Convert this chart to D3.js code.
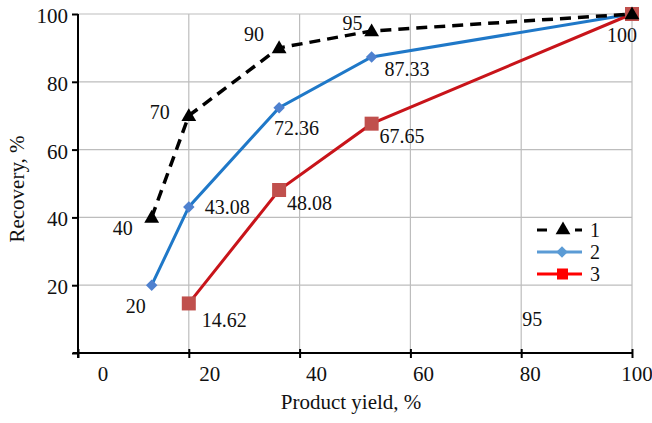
<!DOCTYPE html>
<html>
<head>
<meta charset="utf-8">
<script src="https://cdnjs.cloudflare.com/ajax/libs/d3/7.8.5/d3.min.js"></script>
</head>
<body style="margin:0">
<div class="chart"></div>
<script>
// product yield vs recovery, three curves
var yieldX = [13.3, 20, 36.3, 53, 100];
var rec1 = [40, 70, 90, 95, 100];
var rec2 = [20, 43.08, 72.36, 87.33, 100];
var rec3 = [14.62, 48.08, 67.65, 100];
var yield3 = [20, 36.3, 53, 100];
var xTicks = [0, 20, 40, 60, 80, 100];
var yTicks = [20, 40, 60, 80, 100];
var seriesNames = ["1", "2", "3"];
// point labels (text) and where they sit relative to their point
var lab1 = ["40", "70", "90", "95", "100"];
var off1 = [[-29, 18, "middle"], [-29, 3, "middle"], [-25, -7, "middle"], [-19, -1, "middle"], [-10, 28, "middle"]];
var lab2 = ["20", "43.08", "72.36", "87.33"];
var off2 = [[-16, 28, "middle"], [16, 7, "start"], [-5, 27, "start"], [13, 19, "start"]];
var lab3 = ["14.62", "48.08", "67.65"];
var off3 = [[13, 24, "start"], [8, 20, "start"], [8, 19, "start"]];
var stray = {x: 82, y: 8, text: "95"};

var W = 652, H = 423;
var svg = d3.select(".chart").append("svg")
    .attr("width", W)
    .attr("height", H)
    .attr("font-family", "Liberation Serif");

var x = d3.scaleLinear().domain([0, 100]).range([78, 632]);
var y = d3.scaleLinear().domain([0, 100]).range([353, 14]);
// the tick labels in the original sit a bit right of their ticks
var xLab = d3.scaleLinear().domain([0, 100]).range([103, 637]);

function txt(sel, size) {
    return sel.attr("font-family", "Liberation Serif")
        .style("font-family", "\"Liberation Serif\"")
        .style("font-size", (size || 20) + "px")
        .style("fill", "#111");
}

// grid
svg.append("g").selectAll("line").data(yTicks).enter().append("line")
    .attr("x1", x(0)).attr("x2", x(100))
    .attr("y1", d => y(d)).attr("y2", d => y(d))
    .style("stroke", "#bdbdbd").style("stroke-width", 1.2);
svg.append("g").selectAll("line").data(xTicks.slice(1)).enter().append("line")
    .attr("x1", d => x(d)).attr("x2", d => x(d))
    .attr("y1", y(0)).attr("y2", y(100))
    .style("stroke", "#bdbdbd").style("stroke-width", 1.2);

// axes
var yAxis = svg.append("g").attr("transform", "translate(" + x(0) + ",0)")
    .call(d3.axisLeft(y).tickValues([0].concat(yTicks)).tickSize(6).tickFormat(d => d == 0 ? "" : d));
yAxis.attr("font-family", "Liberation Serif").attr("font-size", 20);
yAxis.select(".domain").attr("d", "M0," + y(100) + "V" + (y(0) + 5)).style("stroke", "#000").style("stroke-width", 2);
yAxis.selectAll(".tick line").style("stroke", "#000").style("stroke-width", 2);
txt(yAxis.selectAll(".tick text").attr("x", -10).attr("dy", "0.4em"), 21);

var xAxis = svg.append("g").attr("transform", "translate(0," + y(0) + ")")
    .call(d3.axisBottom(x).tickValues(xTicks).tickSize(5).tickFormat(""));
xAxis.select(".domain").attr("d", "M" + (x(0) - 5) + ",0H" + x(100)).style("stroke", "#000").style("stroke-width", 2);
xAxis.selectAll(".tick line").attr("y1", -4).style("stroke", "#000").style("stroke-width", 2);

txt(svg.append("g").selectAll("text").data(xTicks).enter().append("text")
    .attr("x", d => xLab(d))
    .attr("y", 381)
    .attr("text-anchor", "middle")
    .text(d => d), 21);

txt(svg.append("text")
    .attr("x", 351).attr("y", 409)
    .attr("text-anchor", "middle")
    .text("Product yield, %"), 21);
txt(svg.append("text")
    .attr("transform", "translate(24,189) rotate(-90)")
    .attr("text-anchor", "middle")
    .text("Recovery, %"), 21);

var line = d3.line().x(d => x(d[0])).y(d => y(d[1]));
var pts1 = d3.zip(yieldX, rec1), pts2 = d3.zip(yieldX, rec2), pts3 = d3.zip(yield3, rec3);

var tri = d3.symbol().type(d3.symbolTriangle).size(95);
var sq = d3.symbol().type(d3.symbolSquare).size(66);

// series 2 - blue
svg.append("path").datum(pts2).attr("d", line)
    .style("fill", "none").style("stroke", "#1f78c8").style("stroke-width", 3);
svg.append("g").selectAll("path").data(pts2.slice(0, 4)).enter().append("path")
    .attr("d", sq)
    .attr("transform", d => "translate(" + x(d[0]) + "," + y(d[1]) + ") rotate(45)")
    .style("fill", "#4f81cf");

// series 3 - red
svg.append("path").datum(pts3).attr("d", line)
    .style("fill", "none").style("stroke", "#c8141a").style("stroke-width", 3);
svg.append("g").selectAll("rect").data(pts3).enter().append("rect")
    .attr("x", d => x(d[0]) - 7).attr("y", d => y(d[1]) - 7)
    .attr("width", 14).attr("height", 14)
    .style("fill", "#c0504d");

// series 1 - black dashed
svg.append("path").datum(pts1).attr("d", line)
    .style("fill", "none").style("stroke", "#000").style("stroke-width", 3.5)
    .style("stroke-dasharray", "11,7");
svg.append("g").selectAll("path").data(pts1).enter().append("path")
    .attr("d", tri)
    .attr("transform", d => "translate(" + x(d[0]) + "," + (y(d[1]) + 1) + ")")
    .style("fill", "#000");

// point labels
function pointLabels(pts, labs, offs) {
    txt(svg.append("g").selectAll("text").data(labs).enter().append("text")
        .attr("x", (d, i) => x(pts[i][0]) + offs[i][0])
        .attr("y", (d, i) => y(pts[i][1]) + offs[i][1])
        .attr("text-anchor", (d, i) => offs[i][2])
        .text(d => d));
}
pointLabels(pts1, lab1, off1);
pointLabels(pts2, lab2, off2);
pointLabels(pts3, lab3, off3);
txt(svg.append("text")
    .attr("x", x(stray.x)).attr("y", y(stray.y))
    .attr("text-anchor", "middle")
    .text(stray.text));

// legend
var legColor = ["#000", "#5b9bd5", "#ff0000"];
var leg = svg.append("g").selectAll("g").data(seriesNames).enter().append("g")
    .attr("transform", (d, i) => "translate(537," + (230 + i * 22) + ")");
leg.append("line")
    .attr("x1", 0).attr("x2", 45).attr("y1", 0).attr("y2", 0)
    .style("stroke", (d, i) => legColor[i])
    .style("stroke-width", 3)
    .style("stroke-dasharray", (d, i) => i == 0 ? "10,28,8" : null);
leg.filter((d, i) => i == 0).append("path")
    .attr("d", tri).attr("transform", "translate(26,0)").style("fill", "#000");
leg.filter((d, i) => i == 1).append("path")
    .attr("d", sq).attr("transform", "translate(25,0) rotate(45)").style("fill", "#5b9bd5");
leg.filter((d, i) => i == 2).append("rect")
    .attr("x", 20).attr("y", -5.5).attr("width", 11).attr("height", 11).style("fill", "#ff0000");
txt(leg.append("text")
    .attr("x", 53).attr("y", 7)
    .text(d => d));
</script>
</body>
</html>
